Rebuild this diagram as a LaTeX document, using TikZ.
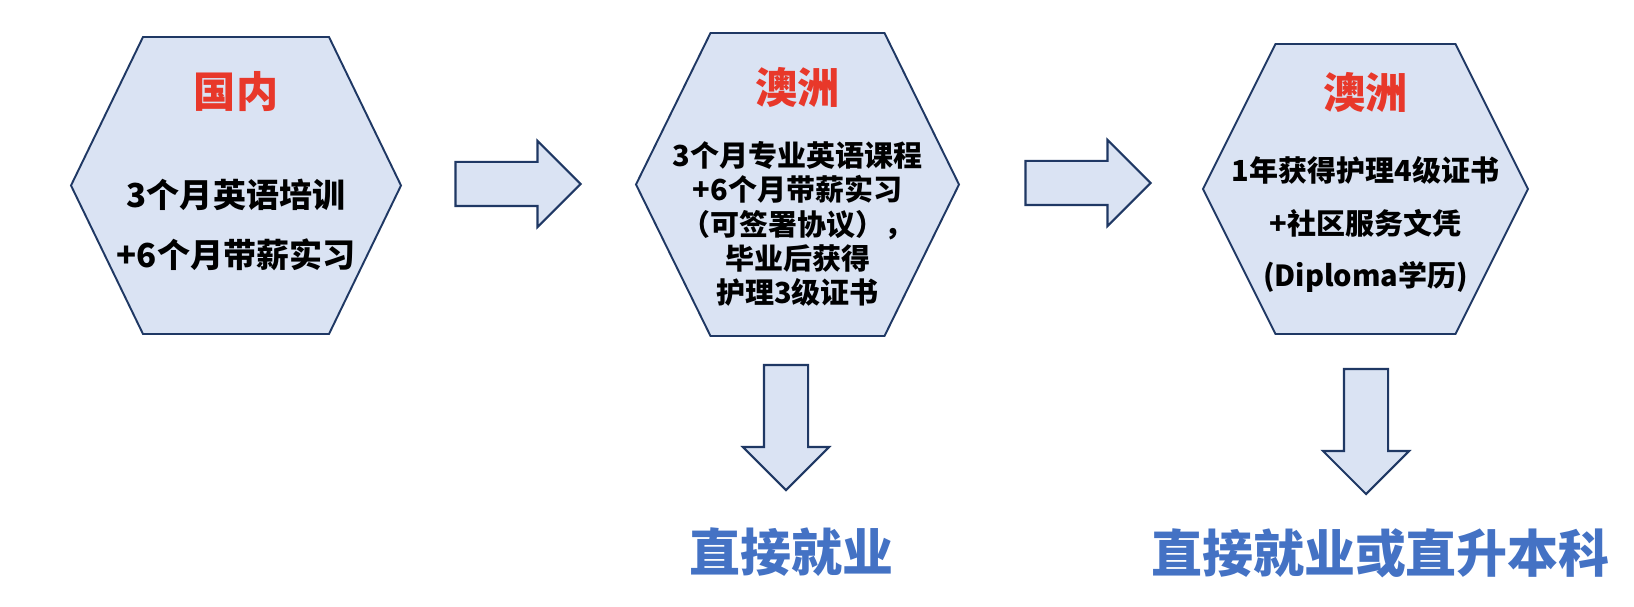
\documentclass[tikz,border=0pt]{standalone}
\usepackage{fontspec}
\setmainfont{Noto Sans CJK SC}[BoldFont={Noto Sans CJK SC Black}]
\usepackage{tikz}
\usetikzlibrary{shapes.arrows}
\definecolor{HexFill}{HTML}{DAE3F3}
\definecolor{Navy}{HTML}{1F3864}
\definecolor{TitleRed}{HTML}{E8382A}
\definecolor{EndBlue}{HTML}{4472C4}
% hexagon outline round an empty box node
\newcommand{\hexout}[2]{%
  \draw[hexline] ([xshift=#2]#1.north west) -- ([xshift=-#2]#1.north east) -- (#1.east)
    -- ([xshift=-#2]#1.south east) -- ([xshift=#2]#1.south west) -- (#1.west) -- cycle;}

\begin{document}
\begin{tikzpicture}[font=\bfseries,
  hexbox/.style={inner sep=0pt,outer sep=0pt},
  hexline/.style={draw=Navy,fill=HexFill,line width=1.1pt},
  title/.style={text=TitleRed,font=\fontsize{24pt}{28pt}\selectfont\bfseries},
  body/.style={align=center,font=\fontsize{16.5pt}{19.6pt}\selectfont\bfseries},
  blockarrow/.style={single arrow,draw=Navy,fill=HexFill,line width=1.2pt,
    inner xsep=0pt,inner ysep=0.42cm,minimum height=2.5cm,
    single arrow head extend=0.42cm,single arrow tip angle=90,single arrow head indent=0pt},
  result/.style={text=EndBlue,font=\fontsize{29pt}{34pt}\selectfont\bfseries}]
\useasboundingbox (0,0) rectangle (32.68,12.12);
% hexagons
\node[hexbox,minimum width=6.6cm,minimum height=5.94cm] (cn) at (4.72,8.41) {};
\node[hexbox,minimum width=6.46cm,minimum height=6.06cm] (au1) at (15.95,8.43) {};
\node[hexbox,minimum width=6.5cm,minimum height=5.8cm] (au2) at (27.31,8.34) {};
\hexout{cn}{1.44cm}
\hexout{au1}{1.49cm}
\hexout{au2}{1.45cm}
% texts
\node[title] (cnT) at ([yshift=1.87cm]cn.center) {国内};
\node[body,font=\fontsize{18.8pt}{34.1pt}\selectfont\bfseries] (cnB) at ([yshift=-0.79cm]cn.center)
  {3个月英语培训\\+6个月带薪实习};
\node[title] (au1T) at ([yshift=1.95cm]au1.center) {澳洲};
\node[body] (au1B) at ([yshift=-0.79cm]au1.center)
  {3个月专业英语课程\\+6个月带薪实习\\（可签署协议），\\毕业后获得\\护理3级证书};
\node[title] (au2T) at ([yshift=1.94cm]au2.center) {澳洲};
\node[body,font=\fontsize{16.5pt}{29.9pt}\selectfont\bfseries] (au2B) at ([yshift=-0.71cm]au2.center)
  {1年获得护理4级证书\\+社区服务文凭\\(Diploma学历)};
% block arrows
\node[blockarrow] (r1) at (10.14,8.44) {};
\node[blockarrow] (r2) at (21.54,8.46) {};
\node[blockarrow,rotate=-90] (d1) at (15.72,3.79) {};
\node[blockarrow,rotate=-90] (d2) at (27.32,3.71) {};
% outcomes
\node[result] (job) at (15.83,1.08) {直接就业};
\node[result] (job2) at (27.61,1.06) {直接就业或直升本科};
\end{tikzpicture}
\end{document}
